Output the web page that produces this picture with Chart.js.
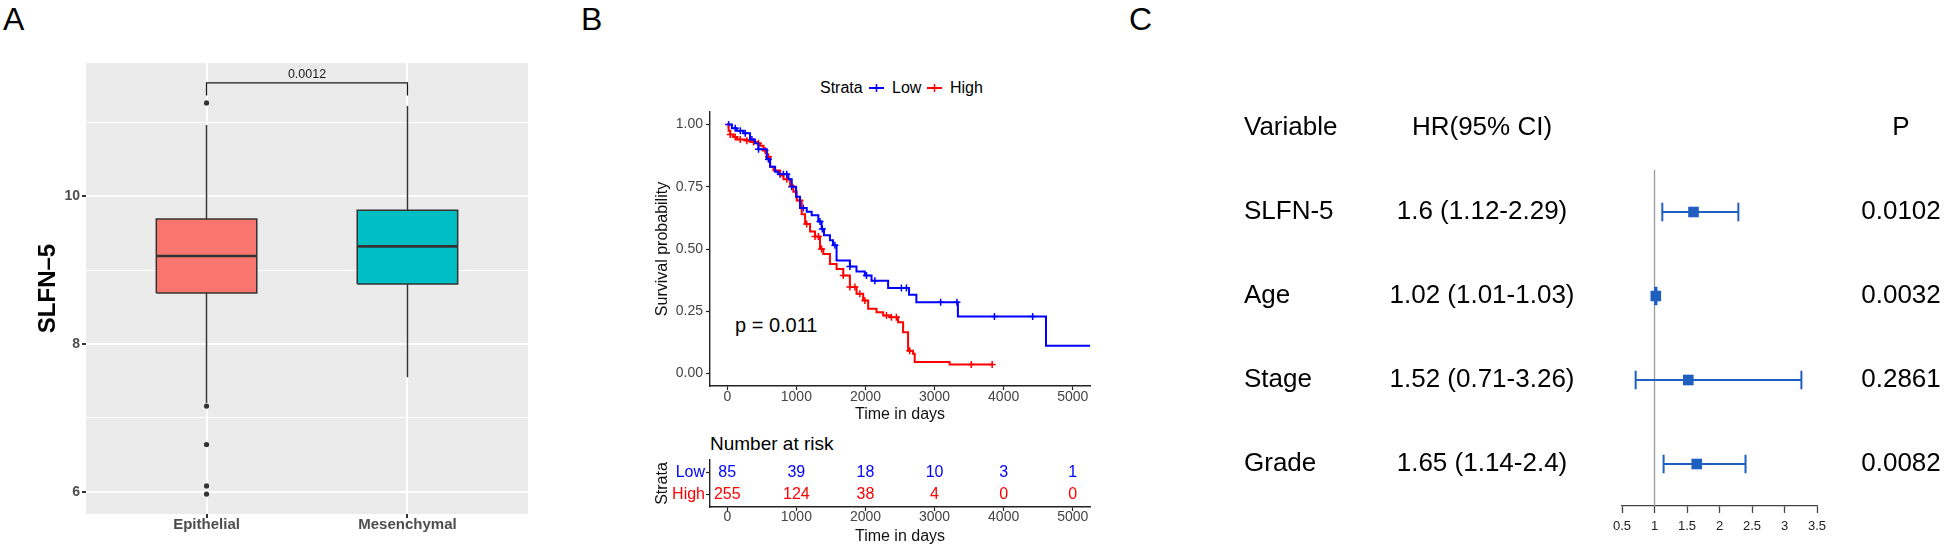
<!DOCTYPE html>
<html>
<head>
<meta charset="utf-8">
<script src="https://cdn.jsdelivr.net/npm/chart.js@4/dist/chart.umd.min.js"></script>
<style>
  body { margin: 0; background: #fff; font-family: "Liberation Sans", Arial, sans-serif; }
  #page { position: relative; width: 1944px; height: 549px; overflow: hidden; }
  .t { position: absolute; white-space: nowrap; line-height: 1; color: #000; }
  canvas, svg { position: absolute; }
</style>
</head>
<body>
<div id="page">
  <div class="t" style="left:3px;top:3px;font-size:32px">A</div>
  <div class="t" style="left:581px;top:3px;font-size:32px">B</div>
  <div class="t" style="left:1129px;top:3px;font-size:32px">C</div>

  <!-- KM legend -->
  <div class="t" style="left:820px;top:80px;font-size:16px">Strata</div>
  <svg width="15" height="12" style="left:869px;top:82px"><line x1="0" y1="6" x2="15" y2="6" stroke="#0000FF" stroke-width="2"/><line x1="7.5" y1="2" x2="7.5" y2="10" stroke="#0000FF" stroke-width="1.5"/></svg>
  <div class="t" style="left:892px;top:80px;font-size:16px">Low</div>
  <svg width="15" height="12" style="left:927px;top:82px"><line x1="0" y1="6" x2="15" y2="6" stroke="#FF0000" stroke-width="2"/><line x1="7.5" y1="2" x2="7.5" y2="10" stroke="#FF0000" stroke-width="1.5"/></svg>
  <div class="t" style="left:950px;top:80px;font-size:16px">High</div>
  <div class="t" style="left:735px;top:315px;font-size:20px">p = 0.011</div>
  <div class="t" style="left:710px;top:434px;font-size:19px">Number at risk</div>

  <canvas id="boxChart" width="560" height="549" style="left:0;top:0"></canvas>
  <canvas id="kmChart" width="480" height="330" style="left:620px;top:100px"></canvas>
  <canvas id="riskChart" width="480" height="103" style="left:620px;top:446px"></canvas>
  <canvas id="forestChart" width="794" height="549" style="left:1150px;top:0"></canvas>
</div>
<script>
// ---------- Panel A: SLFN-5 by subtype ----------
const groups = ['Epithelial', 'Mesenchymal'];
const q1 = [8.69, 8.81];
const median = [9.19, 9.32];
const q3 = [9.69, 9.81];
const whiskerLow = [7.20, 7.55];
const whiskerHigh = [10.96, 11.22];
const outliers = [[11.26, 7.16, 6.64, 6.08, 5.97], []];
const yTicksA = [6, 7, 8, 9, 10, 11];
const pLabelA = '0.0012';

// ---------- Panel B: Kaplan-Meier ----------
const lowTimes = [0, 67, 139, 236, 330, 400, 450, 572, 620, 693, 740, 885, 933, 996, 1053, 1150, 1222, 1318, 1366, 1400, 1486, 1530, 1582, 1775, 1870, 1991, 2088, 2328, 2631, 2737, 3338, 4613, 5250];
const lowSurv = [1.0, 0.985, 0.975, 0.965, 0.94, 0.925, 0.90, 0.86, 0.83, 0.81, 0.80, 0.78, 0.75, 0.71, 0.665, 0.65, 0.635, 0.61, 0.58, 0.555, 0.535, 0.515, 0.454, 0.43, 0.41, 0.394, 0.373, 0.343, 0.316, 0.286, 0.229, 0.112, 0.112];
const highTimes = [0, 19, 43, 91, 139, 284, 332, 428, 476, 524, 572, 620, 669, 765, 813, 909, 957, 1005, 1077, 1126, 1198, 1270, 1342, 1390, 1486, 1582, 1679, 1775, 1871, 1967, 2039, 2160, 2256, 2352, 2472, 2545, 2617, 2689, 2713, 3218, 3843];
const highSurv = [1.0, 0.975, 0.96, 0.95, 0.94, 0.935, 0.93, 0.925, 0.915, 0.895, 0.87, 0.83, 0.815, 0.795, 0.78, 0.755, 0.73, 0.695, 0.64, 0.60, 0.57, 0.55, 0.50, 0.48, 0.44, 0.42, 0.394, 0.347, 0.32, 0.293, 0.26, 0.246, 0.233, 0.226, 0.206, 0.166, 0.092, 0.079, 0.046, 0.036, 0.036];
const lowCensor = [19, 115, 188, 260, 356, 452, 596, 765, 813, 861, 933, 1101, 1342, 1376, 1558, 1775, 2015, 2136, 2520, 2593, 3088, 3324, 3867, 4420];
const highCensor = [43, 115, 188, 284, 380, 452, 548, 596, 861, 1053, 1150, 1270, 1318, 1366, 1679, 1775, 1847, 1919, 1991, 2304, 2376, 2448, 2641, 3531, 3834];
const timeTicks = [0, 1000, 2000, 3000, 4000, 5000];
const survTicks = [0, 0.25, 0.5, 0.75, 1];
const riskLow = [85, 39, 18, 10, 3, 1];
const riskHigh = [255, 124, 38, 4, 0, 0];

// ---------- Panel C: forest plot ----------
const variables = ['SLFN-5', 'Age', 'Stage', 'Grade'];
const hr = [1.6, 1.02, 1.52, 1.65];
const ciLow = [1.12, 1.01, 0.71, 1.14];
const ciHigh = [2.29, 1.03, 3.26, 2.4];
const pValues = ['0.0102', '0.0032', '0.2861', '0.0082'];
const hrTicks = [0.5, 1, 1.5, 2, 2.5, 3, 3.5];

const FONT = '"Liberation Sans", Arial, sans-serif';
Chart.defaults.font.family = FONT;
Chart.defaults.animation = false;
Chart.defaults.events = [];
Chart.defaults.plugins.legend.display = false;
Chart.defaults.plugins.tooltip.enabled = false;

const BLUE = '#0000FF', RED = '#FF0000', INK = '#333333';

// ---------------- A ----------------
const panelBg = {
  id: 'panelBg',
  beforeDraw(chart) {
    const { ctx, chartArea: a } = chart;
    ctx.save();
    ctx.fillStyle = '#EBEBEB';
    ctx.fillRect(a.left, a.top, a.right - a.left, a.bottom - a.top);
    ctx.restore();
  }
};
const pText = {
  id: 'pText',
  afterDatasetsDraw(chart) {
    const { ctx, scales: { x, y } } = chart;
    ctx.save();
    ctx.font = '12.5px ' + FONT;
    ctx.fillStyle = '#1a1a1a';
    ctx.textAlign = 'center';
    ctx.textBaseline = 'middle';
    ctx.fillText(pLabelA, x.getPixelForValue(1.5), y.getPixelForValue(11.64));
    ctx.restore();
  }
};

const boxFills = ['#F8766D', '#00BFC4'];
const boxHalf = 0.25;
const boxSets = [];
groups.forEach((g, i) => {
  const x = i + 1;
  boxSets.push({
    data: [{ x, y: whiskerHigh[i] }, { x, y: q3[i] }, { x, y: null }, { x, y: q1[i] }, { x, y: whiskerLow[i] }],
    borderColor: INK, borderWidth: 1.5, pointRadius: 0, spanGaps: false, order: 3
  });
  boxSets.push({
    data: [{ x: x - boxHalf, y: q1[i] }, { x: x + boxHalf, y: q1[i] }, { x: x + boxHalf, y: q3[i] },
           { x: x - boxHalf, y: q3[i] }, { x: x - boxHalf, y: q1[i] }],
    borderColor: INK, borderWidth: 1.5, backgroundColor: boxFills[i], fill: 'shape', pointRadius: 0, order: 2
  });
  boxSets.push({
    data: [{ x: x - boxHalf, y: median[i] }, { x: x + boxHalf, y: median[i] }],
    borderColor: INK, borderWidth: 2.6, pointRadius: 0, order: 1
  });
  boxSets.push({
    data: outliers[i].map(v => ({ x, y: v })),
    showLine: false, pointRadius: 2.6, pointBackgroundColor: INK, pointBorderWidth: 0, order: 1
  });
});
boxSets.push({
  data: [{ x: 1, y: 11.36 }, { x: 1, y: 11.53 }, { x: 2, y: 11.53 }, { x: 2, y: 11.36 }],
  borderColor: '#1a1a1a', borderWidth: 1.3, pointRadius: 0, order: 1
});

new Chart(document.getElementById('boxChart'), {
  type: 'line',
  data: { datasets: boxSets },
  options: {
    responsive: false,
    layout: { padding: { left: 0, right: 32, top: 63, bottom: 0 } },
    scales: {
      x: {
        type: 'linear', min: 0.4, max: 2.6,
        afterBuildTicks: s => { s.ticks = groups.map((g, i) => ({ value: i + 1 })); },
        afterFit: s => { s.height = 35; },
        border: { display: false },
        grid: { color: '#FFFFFF', lineWidth: 2, tickColor: INK, tickLength: 4 },
        ticks: { callback: v => groups[v - 1], font: { size: 15, weight: 'bold' }, color: '#4D4D4D', padding: -2, maxRotation: 0 }
      },
      y: {
        type: 'linear', min: 5.70, max: 11.80,
        afterBuildTicks: s => { s.ticks = yTicksA.map(v => ({ value: v })); },
        afterFit: s => { s.width = 86; },
        border: { display: false },
        grid: {
          color: '#FFFFFF',
          lineWidth: c => (c.tick && c.tick.value % 2 === 0 ? 2 : 1),
          tickColor: c => (c.tick && c.tick.value % 2 === 0 ? INK : 'rgba(0,0,0,0)'),
          tickLength: 4
        },
        ticks: { callback: v => (v % 2 === 0 ? String(v) : ''), font: { size: 14, weight: 'bold' }, color: '#4D4D4D', padding: 2 },
        title: { display: true, text: 'SLFN–5', font: { size: 24, weight: 'bold' }, color: '#000', padding: { top: 34, bottom: 0 } }
      }
    }
  },
  plugins: [panelBg, pText]
});

// ---------------- B: KM ----------------
function survAt(times, surv, t) {
  let s = surv[0];
  for (let i = 0; i < times.length; i++) if (times[i] <= t) s = surv[i];
  return s;
}
const axisStyle = {
  border: { display: true, color: '#222', width: 1.4 },
  grid: { drawOnChartArea: false, tickLength: 4, tickColor: '#222', tickWidth: 1.2 }
};

new Chart(document.getElementById('kmChart'), {
  type: 'line',
  data: {
    datasets: [
      { data: lowTimes.map((t, i) => ({ x: t, y: lowSurv[i] })), borderColor: BLUE, borderWidth: 2, stepped: true, pointRadius: 0 },
      { data: highTimes.map((t, i) => ({ x: t, y: highSurv[i] })), borderColor: RED, borderWidth: 2, stepped: true, pointRadius: 0 },
      { data: lowCensor.map(t => ({ x: t, y: survAt(lowTimes, lowSurv, t) })), showLine: false, pointStyle: 'cross',
        pointRadius: 3.5, pointBorderColor: BLUE, pointBorderWidth: 1.5 },
      { data: highCensor.map(t => ({ x: t, y: survAt(highTimes, highSurv, t) })), showLine: false, pointStyle: 'cross',
        pointRadius: 3.5, pointBorderColor: RED, pointBorderWidth: 1.5 }
    ]
  },
  options: {
    responsive: false,
    layout: { padding: { left: 0, right: 10, top: 12, bottom: 0 } },
    scales: {
      x: {
        type: 'linear', min: -250, max: 5250, ...axisStyle,
        afterBuildTicks: s => { s.ticks = timeTicks.map(v => ({ value: v })); },
        afterFit: s => { s.height = 44; },
        ticks: { font: { size: 14 }, color: '#444', padding: -1, maxRotation: 0, callback: v => String(v) },
        title: { display: true, text: 'Time in days', font: { size: 16 }, color: '#111', padding: { top: 0, bottom: 5.4 } }
      },
      y: {
        type: 'linear', min: -0.05, max: 1.05, ...axisStyle,
        afterBuildTicks: s => { s.ticks = survTicks.map(v => ({ value: v })); },
        afterFit: s => { s.width = 90; },
        ticks: { font: { size: 14 }, color: '#444', padding: 3, callback: v => v.toFixed(2) },
        title: { display: true, text: 'Survival probability', font: { size: 16 }, color: '#111', padding: { top: 33.4, bottom: 0 } }
      }
    }
  }
});

// ---------------- B: risk table ----------------
const riskText = {
  id: 'riskText',
  afterDatasetsDraw(chart) {
    const ctx = chart.ctx;
    ctx.save();
    ctx.font = '16px ' + FONT;
    ctx.textAlign = 'center';
    ctx.textBaseline = 'middle';
    chart.data.datasets.forEach((ds, di) => {
      ctx.fillStyle = ds.textColor;
      chart.getDatasetMeta(di).data.forEach((pt, j) => ctx.fillText(String(ds.data[j].n), pt.x, pt.y));
    });
    ctx.restore();
  }
};
new Chart(document.getElementById('riskChart'), {
  type: 'line',
  data: {
    datasets: [
      { data: timeTicks.map((t, i) => ({ x: t, y: 2, n: riskLow[i] })), textColor: BLUE, showLine: false, pointRadius: 0 },
      { data: timeTicks.map((t, i) => ({ x: t, y: 1, n: riskHigh[i] })), textColor: RED, showLine: false, pointRadius: 0 }
    ]
  },
  options: {
    responsive: false,
    layout: { padding: { left: 0, right: 10, top: 14, bottom: 0 } },
    scales: {
      x: {
        type: 'linear', min: -250, max: 5250, ...axisStyle,
        afterBuildTicks: s => { s.ticks = timeTicks.map(v => ({ value: v })); },
        afterFit: s => { s.height = 42; },
        ticks: { font: { size: 14 }, color: '#444', padding: -2, maxRotation: 0, callback: v => String(v) },
        title: { display: true, text: 'Time in days', font: { size: 16 }, color: '#111', padding: { top: 0, bottom: 2.4 } }
      },
      y: {
        type: 'linear', min: 0.4, max: 2.6, ...axisStyle,
        afterBuildTicks: s => { s.ticks = [{ value: 1 }, { value: 2 }]; },
        afterFit: s => { s.width = 90; },
        ticks: { font: { size: 16 }, padding: 1, callback: v => (v === 2 ? 'Low' : 'High'),
                 color: c => (c.tick && c.tick.value === 2 ? BLUE : RED) },
        title: { display: true, text: 'Strata', font: { size: 16 }, color: '#111', padding: { top: 33.4, bottom: 0 } }
      }
    }
  },
  plugins: [riskText]
});

// ---------------- C: forest ----------------
const FOREST = '#1F5FBF';
const capHalf = 0.11;
const colVar = 94, colHr = 332, colP = 751;
const forestText = {
  id: 'forestText',
  afterDraw(chart) {
    const { ctx, scales: { y } } = chart;
    const rows = [['Variable', 'HR(95% CI)', 'P']].concat(
      variables.map((v, i) => [v, `${hr[i]} (${ciLow[i]}-${ciHigh[i]})`, pValues[i]]));
    ctx.save();
    ctx.font = '26px ' + FONT;
    ctx.fillStyle = '#000';
    ctx.textBaseline = 'middle';
    rows.forEach((r, i) => {
      const py = y.getPixelForValue(i);
      ctx.textAlign = 'left';
      ctx.fillText(r[0], colVar, py);
      ctx.textAlign = 'center';
      ctx.fillText(r[1], colHr, py);
      ctx.fillText(r[2], colP, py);
    });
    ctx.restore();
  }
};
const forestSets = [{
  data: [{ x: 1, y: 0.5 }, { x: 1, y: 4.5 }], borderColor: '#999999', borderWidth: 1.3, pointRadius: 0, order: 3
}];
variables.forEach((v, i) => {
  const r = i + 1;
  forestSets.push({
    data: [{ x: ciLow[i], y: r - capHalf }, { x: ciLow[i], y: r + capHalf }, { x: ciLow[i], y: r },
           { x: ciHigh[i], y: r }, { x: ciHigh[i], y: r - capHalf }, { x: ciHigh[i], y: r + capHalf }],
    borderColor: FOREST, borderWidth: 2, pointRadius: 0, order: 2
  });
});
forestSets.push({
  data: hr.map((h, i) => ({ x: h, y: i + 1 })), showLine: false, pointStyle: 'rect',
  pointRadius: 7.5, pointBackgroundColor: FOREST, pointBorderColor: FOREST, pointBorderWidth: 0, order: 1
});

new Chart(document.getElementById('forestChart'), {
  type: 'line',
  data: { datasets: forestSets },
  options: {
    responsive: false,
    layout: { padding: { left: 472, right: 127, top: 170, bottom: 0 } },
    scales: {
      x: {
        type: 'linear', min: 0.5, max: 3.5,
        afterBuildTicks: s => { s.ticks = hrTicks.map(v => ({ value: v })); },
        afterFit: s => { s.height = 43; },
        border: { display: true, color: '#444', width: 1.3 },
        grid: { drawOnChartArea: false, tickLength: 7, tickColor: '#444', tickWidth: 1.3 },
        ticks: { font: { size: 13 }, color: '#222', padding: 6, maxRotation: 0, callback: v => String(v) }
      },
      y: { type: 'linear', min: 0.5, max: 4.5, reverse: true, display: false }
    }
  },
  plugins: [forestText]
});
</script>
</body>
</html>
